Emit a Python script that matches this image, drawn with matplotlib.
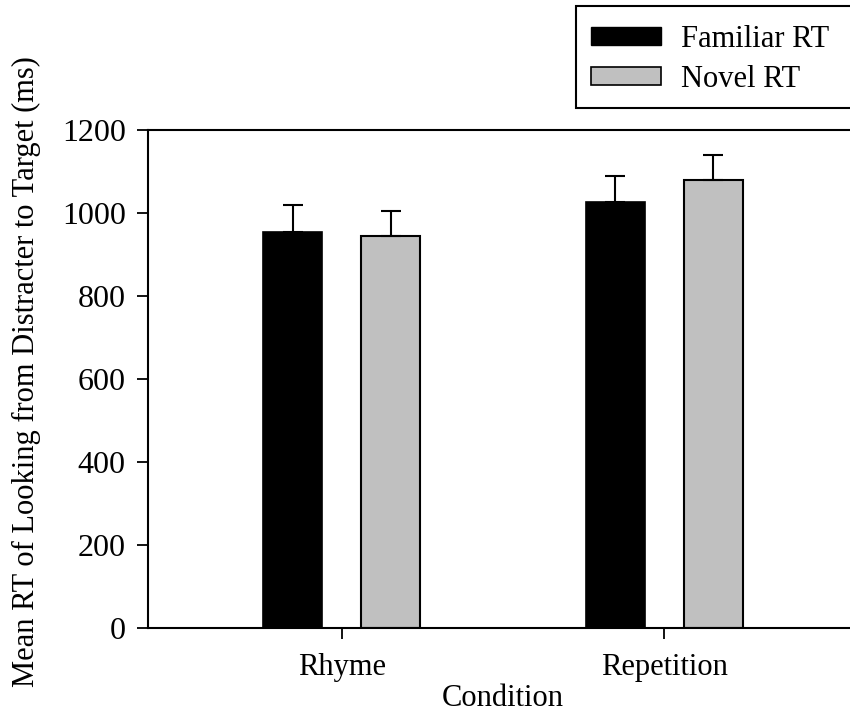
import matplotlib.pyplot as plt
from matplotlib.patches import Rectangle, Patch
import numpy as np

plt.rcParams['font.family'] = ['Liberation Serif', 'DejaVu Serif']

# 데이터
conditions = ['Rhyme', 'Repetition']
familiar_rt = [955, 1026]
novel_rt = [945, 1080]
familiar_err = [65, 63]
novel_err = [60, 60]

fig = plt.figure(figsize=(8.5, 7.17), dpi=100)
ax = fig.add_axes([148/850, 1 - 628/717, (858 - 148)/850, (628 - 130)/717])

x = np.arange(len(conditions))
w = 0.183
off = 0.152
ax.bar(x - off, familiar_rt, w, color='black', edgecolor='black', linewidth=1.2,
       yerr=[[0, 0], familiar_err], error_kw=dict(ecolor='black', elinewidth=1.5, capsize=7, capthick=1.5))
ax.bar(x + off, novel_rt, w, color='#c0c0c0', edgecolor='black', linewidth=1.5,
       yerr=[[0, 0], novel_err], error_kw=dict(ecolor='black', elinewidth=1.5, capsize=7, capthick=1.5))

ax.set_xlim(-0.6, 1.6)
ax.set_ylim(0, 1200)
ax.set_yticks(range(0, 1201, 200))
ax.set_xticks(x)
ax.set_xticklabels(conditions)
ax.spines['right'].set_visible(False)
for s in ['left', 'top', 'bottom']:
    ax.spines[s].set_linewidth(1.5)
ax.tick_params(axis='both', direction='out', length=8, width=1.3, labelsize=23)
ax.tick_params(axis='x', labelsize=22, pad=10)
ax.tick_params(axis='y', pad=8)
ax.set_xlabel('Condition', fontsize=22)
ax.xaxis.set_label_coords(0.5, -0.113)
ax.set_ylabel('Mean RT of Looking from Distracter to Target (ms)', fontsize=22)
ax.yaxis.set_label_coords(-0.15, 0.515)

# 범례
box = Rectangle((576/850, 1 - 108/717), 0.4, 102/717, transform=fig.transFigure,
                facecolor='white', edgecolor='black', linewidth=1.5)
fig.patches.append(box)
handles = [Patch(facecolor='black', edgecolor='black', label='Familiar RT'),
           Patch(facecolor='#c0c0c0', edgecolor='black', linewidth=1.2, label='Novel RT')]
fig.legend(handles=handles, loc='upper left', bbox_to_anchor=(591/850, 1 - 25/717),
           frameon=False, fontsize=22, handlelength=2.3, handleheight=0.5,
           labelspacing=0.35, handletextpad=0.65, borderpad=0, borderaxespad=0)

fig.savefig('out.png', dpi=100)
